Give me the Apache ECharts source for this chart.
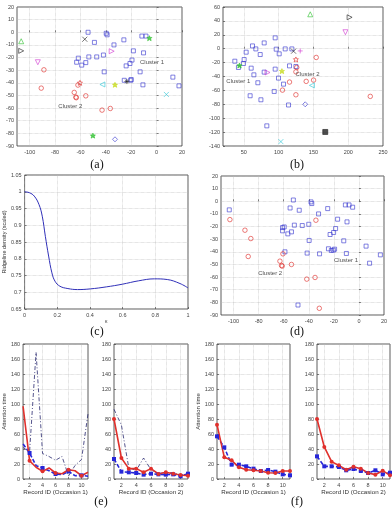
<!DOCTYPE html>
<html>
<head>
<meta charset="utf-8">
<script src="https://cdn.jsdelivr.net/npm/echarts@6/dist/echarts.min.js"></script>
<style>
  html, body { margin: 0; padding: 0; background: #fff; }
  #chart { width: 392px; height: 511px; }
</style>
</head>
<body>
<div id="chart"></div>
<script>
// ---- (a) embedding: cluster points
var aCluster1 = [[-54, 0], [-39.7, -0.8], [-39, -2], [-49, -8], [-33.6, -10], [-25.8, -6], [-11.6, -3], [-8.4, -3],
  [-18.3, -14.7], [-10.3, -16.3], [-61.7, -20.5], [-63, -23.7], [-53.4, -19.5], [-47.2, -19.5], [-41.9, -18],
  [-55.8, -24], [-59, -26], [-19.4, -22], [-21, -24.7], [-24, -26.6], [-13, -31.3], [-41.3, -31.3], [12.8, -35.5],
  [-25.5, -38], [-20.4, -38], [-20, -37.4], [-10.8, -41.6], [17.6, -42.4]]
var aCluster2 = [[-88.8, -29.7], [-90.9, -44.2], [-62, -41.8], [-64.9, -47.6], [-63.6, -51.3], [-63.3, -51.8],
  [-55.8, -50.3], [-43, -61.6], [-36.5, -60.3]]
var aSpecial = [[-106.7, -7.1], [-106.7, -14.7], [-93.6, -23.7], [-56.6, -5.5], [-35.4, -15], [-5.7, -4.7],
  [-42.7, -41.3], [-32.8, -41.6], [-23.4, -39], [7.7, -49.2], [-50.2, -81.8], [-32.8, -84.7], [-60.4, -40]]
var aSpecialIds = ['m1', 'm2', 'm3', 'm4', 'm5', 'm6', 'm7', 'm8', 'm9', 'm10', 'm11', 'm12', 'm13']
var aLabels = [['Cluster 1', -3.6, -24], ['Cluster 2', -68, -58.4]]

// ---- (b) embedding
var bCluster1 = [[95, 15.6], [79.2, 8.3], [62.4, 4], [67.2, -0.3], [96.5, -0.7], [109.4, -0.3], [119, -0.3],
  [53.3, -5], [100.8, -7.4], [73.5, -8.4], [37, -18], [50.4, -15.6], [49.4, -21.3], [42.2, -27], [60.5, -28],
  [95, -29.4], [115.6, -24.7], [124.8, -25.6], [64.4, -37.6], [79.2, -33.7], [99.8, -42.3], [70.1, -49],
  [107, -51], [93.6, -61.5], [59, -67.7], [74.5, -73.5], [114.2, -81], [83, -111]]
var bCluster2 = [[124.8, -33.3], [126, -27], [115.6, -48], [105.5, -59.6], [124.8, -66.3], [154, -12.6],
  [139.6, -47], [150.2, -45.2], [231.7, -68.6]]
var bSpecial = [[145.4, 49.5], [202, 45.2], [196, 23.7], [121.4, -3.6], [84, -34.2], [43.7, -24.2],
  [147.8, -52.8], [104.7, -32.3], [131, -3.2], [124.8, -15.5], [138.2, -80], [167, -119.8], [103.2, -133.7]]
var bSpecialIds = ['m1', 'm2', 'm3', 'm4', 'm5', 'm6', 'm7', 'm8', 'm14', 'm13', 'm12', 'm15', 'm10']
var bLabels = [['Cluster 1', 42, -47.6], ['Cluster 2', 141.5, -36.6]]

// ---- (c) ridgeline density
var cKappa = [0, 0.03, 0.059, 0.088, 0.108, 0.127, 0.147, 0.167, 0.186, 0.216, 0.265, 0.324, 0.402, 0.5,
  0.598, 0.696, 0.794, 0.873, 0.951, 1]
var cDensity = [1.0, 0.997, 0.987, 0.962, 0.927, 0.867, 0.808, 0.758, 0.733, 0.718, 0.711, 0.708, 0.71, 0.716,
  0.724, 0.734, 0.74, 0.738, 0.726, 0.713]

// ---- (d) two clusters
var dCluster1 = [[-103.4, -6.8], [-52.3, 1], [-38.2, -0.5], [-37.6, -1.8], [-54.9, -5.3], [-47.6, -7.1],
  [-32.2, -10], [-24.9, -5.8], [-10.8, -2.9], [-7.9, -2.9], [-5, -4.7], [-17, -14.2], [-9.5, -16.3],
  [-60.9, -20.8], [-59.6, -20.3], [-60.9, -23.4], [-56.7, -25.8], [-53.8, -24.2], [-51.5, -18.9],
  [-45.2, -19.2], [-40, -18.2], [-18.6, -21.6], [-20.2, -24.7], [-23, -26.3], [-12.1, -31.3], [-39.7, -31],
  [-24.3, -37.6], [-22, -38.9], [-20.4, -38.7], [-19.4, -37.9], [-59, -40], [-41.3, -41], [-31.4, -41.6],
  [-10, -41.3], [5.7, -35.5], [17.1, -42.4], [8.5, -49], [-48.6, -82.1]]
var dCluster2 = [[-102.9, -14.5], [-90.9, -22.9], [-86.2, -29.5], [-88.3, -43.7], [-60.6, -41.6], [-63, -47.4],
  [-61.7, -50.8], [-61.2, -51.3], [-53.8, -50], [-34.3, -15], [-41.6, -61.6], [-35, -60.3], [-31.6, -84.7]]
var dLabels = [['Cluster 1', -10.3, -47.1], ['Cluster 2', -70.8, -57.4]]

// tick values for the scatter x axes
var embedXTicks = [-100, -80, -60, -40, -20, 0, 20]
var bXTicks = [50, 100, 150, 200, 250]

// ---- (e) / (f) attention time per record
var recordIds = ['1', '2', '3', '4', '5', '6', '7', '8', '9', '10', '11']
var e1Red = [97, 24.4, 15.6, 10.2, 14.7, 8, 7, 12.4, 11, 4.4, 8.9]
var e1Blue = [46.7, 34.7, 17.8, 14.7, 11.1, 6.7, 5.8, 10.2, 4.4, 4.9, 3.6]
var e1Dash = [42, 36, 169, 34, 30, 25, 30, 4, 18, 26, 87]
var e2Red = [80, 28, 13.8, 13.8, 8.9, 13.8, 6.7, 8.9, 7.1, 5.3, 4.4]
var e2Blue = [26.7, 9.8, 8.9, 8, 5.8, 7.1, 6.2, 5.8, 6.2, 3.6, 7.1]
var e2Dash = [93, 72, 14.7, 11.6, 28, 12.4, 7.1, 8.9, 8, 5.8, 4.4]
var f1Red = [72.4, 28.9, 24.9, 15.6, 12.4, 11.6, 10.7, 8.4, 8, 10.7, 10.7]
var f1Blue = [56.9, 42.2, 19.1, 19.1, 16.9, 13.8, 10.7, 12, 9.8, 6.2, 4.9]
var f2Red = [80, 42.7, 23.1, 18.2, 12.4, 16.4, 13.8, 8, 5.8, 11.1, 4.9]
var f2Blue = [30.2, 16.9, 16.9, 16, 11.6, 13.3, 10.7, 8, 11.6, 6.2, 8.4]

var BLUE = '#3a3ad0'
var RED = '#e0302c'
var FONT = 'Liberation Sans'
var tickFont = { fontSize: 5.5, color: '#444', fontFamily: FONT }
var splitStyle = { show: true, lineStyle: { type: 'dotted', color: '#b8b8b8', width: 0.6 } }
var STAR = 'path://M5,0 L6.5,3.5 L10,3.5 L7.5,6 L8.5,10 L5,7.8 L1.5,10 L2.5,6 L0,3.5 L3.5,3.5 Z'

var MARKERS = {
  m1: { symbol: 'triangle', color: '#33c233', fill: false },
  m2: { symbol: 'path://M0,0 L10,5 L0,10 Z', color: '#222', fill: false },
  m3: { symbol: 'path://M0,0 L10,0 L5,10 Z', color: '#d23cd2', fill: false },
  m4: { symbol: 'path://M0,0 L10,10 M10,0 L0,10', color: '#222', fill: false },
  m5: { symbol: 'path://M0,0 L10,5 L0,10 Z', color: '#d23cd2', fill: false },
  m6: { symbol: STAR, color: '#33c233', fill: true },
  m7: { symbol: 'path://M10,0 L0,5 L10,10 Z', color: '#33c8d8', fill: false },
  m8: { symbol: STAR, color: '#c8dc20', fill: true },
  m9: { symbol: 'path://M5,0 L5,10 M0,5 L10,5 M1.5,1.5 L8.5,8.5 M8.5,1.5 L1.5,8.5', color: '#222', fill: false },
  m10: { symbol: 'path://M0,0 L10,10 M10,0 L0,10', color: '#33c8d8', fill: false },
  m11: { symbol: STAR, color: '#33c233', fill: true },
  m12: { symbol: 'diamond', color: BLUE, fill: false },
  m13: { symbol: STAR, color: RED, fill: false },
  m14: { symbol: 'path://M5,0 L5,10 M0,5 L10,5', color: '#d23cd2', fill: false },
  m15: { symbol: 'rect', color: '#222', fill: true }
}

var grids = [
  { left: 17, top: 7, width: 165, height: 139 },    // a
  { left: 223, top: 7, width: 160, height: 139 },   // b
  { left: 18, top: 175, width: 170, height: 134 },  // c
  { left: 221, top: 176, width: 163, height: 139 }, // d
  { left: 15, top: 344, width: 73, height: 135 },   // e1
  { left: 114, top: 344, width: 74, height: 135 },  // e2
  { left: 217, top: 344, width: 73, height: 135 },  // f1
  { left: 317, top: 344, width: 73, height: 135 }   // f2
].map(function (g) {
  return Object.assign({ show: true, borderColor: '#333', borderWidth: 0.8, backgroundColor: '#fff' }, g)
})

var tickLine = { color: '#333', width: 0.6 }

function valueAxis(idx, min, max, interval, extra) {
  return Object.assign({
    type: 'value', gridIndex: idx, min: min, max: max, interval: interval,
    axisLine: { show: false },
    axisTick: { show: true, inside: true, length: 2, lineStyle: tickLine },
    axisLabel: Object.assign({ margin: 3 }, tickFont),
    splitLine: splitStyle
  }, extra || {})
}

// x axis whose ticks do not start at its min
function customXAxis(idx, min, max, ticks) {
  return {
    type: 'value', gridIndex: idx, min: min, max: max,
    axisLine: { show: false },
    axisTick: { show: true, inside: true, length: 2, lineStyle: tickLine, customValues: ticks },
    axisLabel: Object.assign({ margin: 3, customValues: ticks }, tickFont),
    splitLine: splitStyle
  }
}

function recordAxis(idx, name) {
  var even = function (i) { return i % 2 === 1 }
  return {
    type: 'category', gridIndex: idx, data: recordIds, boundaryGap: false,
    axisLine: { show: false },
    axisTick: { show: true, inside: true, length: 2, interval: even, lineStyle: tickLine },
    axisLabel: Object.assign({ margin: 3, interval: even }, tickFont),
    splitLine: { show: true, interval: even, lineStyle: splitStyle.lineStyle },
    name: name, nameLocation: 'middle', nameGap: 9,
    nameTextStyle: { fontSize: 6.2, color: '#333', fontFamily: FONT }
  }
}

var xAxes = [
  customXAxis(0, -110, 20, embedXTicks),
  customXAxis(1, 20, 250, bXTicks),
  valueAxis(2, 0, 1, 0.2, { name: 'κ', nameLocation: 'middle', nameGap: 8, nameTextStyle: { fontSize: 5, color: '#444' } }),
  customXAxis(3, -110, 20, embedXTicks),
  recordAxis(4, 'Record ID (Occasion 1)'),
  recordAxis(5, 'Record ID (Occasion 2)'),
  recordAxis(6, 'Record ID (Occasion 1)'),
  recordAxis(7, 'Record ID (Occasion 2)')
]

var attName = { name: 'Attention time', nameLocation: 'middle', nameGap: 11, nameTextStyle: { fontSize: 6, color: '#333', fontFamily: FONT } }
var yAxes = [
  valueAxis(0, -90, 20, 10),
  valueAxis(1, -140, 60, 20),
  valueAxis(2, 0.65, 1.05, 0.05, { name: 'Ridgeline density (scaled)', nameLocation: 'middle', nameGap: 13, nameTextStyle: { fontSize: 5.5, color: '#333', fontFamily: FONT } }),
  valueAxis(3, -90, 20, 10),
  valueAxis(4, 0, 180, 20, attName),
  valueAxis(5, 0, 180, 20),
  valueAxis(6, 0, 180, 20, attName),
  valueAxis(7, 0, 180, 20)
]

function openScatter(idx, data, symbol, color, size) {
  return {
    type: 'scatter', xAxisIndex: idx, yAxisIndex: idx, data: data, symbol: symbol, symbolSize: size,
    itemStyle: { color: 'rgba(0,0,0,0)', borderColor: color, borderWidth: 0.8 },
    emphasis: { disabled: true }
  }
}

function specialSeries(idx, pts, ids) {
  return pts.map(function (p, i) {
    var m = MARKERS[ids[i]]
    return {
      type: 'scatter', xAxisIndex: idx, yAxisIndex: idx, data: [p], symbol: m.symbol, symbolSize: 5,
      itemStyle: { color: m.fill ? m.color : 'rgba(0,0,0,0)', borderColor: m.color, borderWidth: 0.8 }
    }
  })
}

function labelSeries(idx, labels) {
  return {
    type: 'scatter', xAxisIndex: idx, yAxisIndex: idx, symbolSize: 0,
    data: labels.map(function (l) { return { name: l[0], value: [l[1], l[2]] } }),
    label: { show: true, formatter: '{b}', position: 'inside', fontSize: 6, color: '#222', fontFamily: FONT }
  }
}

function lineSeries(idx, data, kind) {
  if (kind === 'red') {
    return { type: 'line', xAxisIndex: idx, yAxisIndex: idx, data: data, symbol: 'circle', symbolSize: 4,
      itemStyle: { color: RED }, lineStyle: { color: RED, width: 1.6 } }
  }
  if (kind === 'blue') {
    return { type: 'line', xAxisIndex: idx, yAxisIndex: idx, data: data, symbol: 'rect', symbolSize: 4,
      itemStyle: { color: '#2626d8' }, lineStyle: { color: '#2626d8', width: 1.6, type: [4, 2] } }
  }
  return { type: 'line', xAxisIndex: idx, yAxisIndex: idx, data: data, symbol: 'none',
    lineStyle: { color: '#2a2a70', width: 0.8, type: [4, 2, 1, 2] } }
}

var series = []
  .concat([openScatter(0, aCluster1, 'rect', BLUE, 4), openScatter(0, aCluster2, 'circle', RED, 4.5)])
  .concat(specialSeries(0, aSpecial, aSpecialIds))
  .concat([labelSeries(0, aLabels)])
  .concat([openScatter(1, bCluster1, 'rect', BLUE, 4), openScatter(1, bCluster2, 'circle', RED, 4.5)])
  .concat(specialSeries(1, bSpecial, bSpecialIds))
  .concat([labelSeries(1, bLabels)])
  .concat([{
    type: 'line', xAxisIndex: 2, yAxisIndex: 2, symbol: 'none', smooth: 0.4,
    data: cKappa.map(function (k, i) { return [k, cDensity[i]] }),
    lineStyle: { color: '#3030b8', width: 1 }
  }])
  .concat([openScatter(3, dCluster1, 'rect', BLUE, 4), openScatter(3, dCluster2, 'circle', RED, 4.5), labelSeries(3, dLabels)])
  .concat([lineSeries(4, e1Dash, 'dash'), lineSeries(4, e1Blue, 'blue'), lineSeries(4, e1Red, 'red')])
  .concat([lineSeries(5, e2Dash, 'dash'), lineSeries(5, e2Blue, 'blue'), lineSeries(5, e2Red, 'red')])
  .concat([lineSeries(6, f1Blue, 'blue'), lineSeries(6, f1Red, 'red')])
  .concat([lineSeries(7, f2Blue, 'blue'), lineSeries(7, f2Red, 'red')])

var captions = [['(a)', 97, 165], ['(b)', 297, 165], ['(c)', 97, 332], ['(d)', 297, 332], ['(e)', 101, 502], ['(f)', 297, 502]]

var chart = echarts.init(document.getElementById('chart'), null, { renderer: 'canvas' })
chart.setOption({
  animation: false,
  grid: grids,
  xAxis: xAxes,
  yAxis: yAxes,
  series: series,
  graphic: captions.map(function (c) {
    return { type: 'text', x: c[1], y: c[2], style: { text: c[0], x: 0, y: 0, align: 'center', verticalAlign: 'middle',
      font: '12px "Liberation Serif"', fill: '#111' } }
  })
})
</script>
</body>
</html>
